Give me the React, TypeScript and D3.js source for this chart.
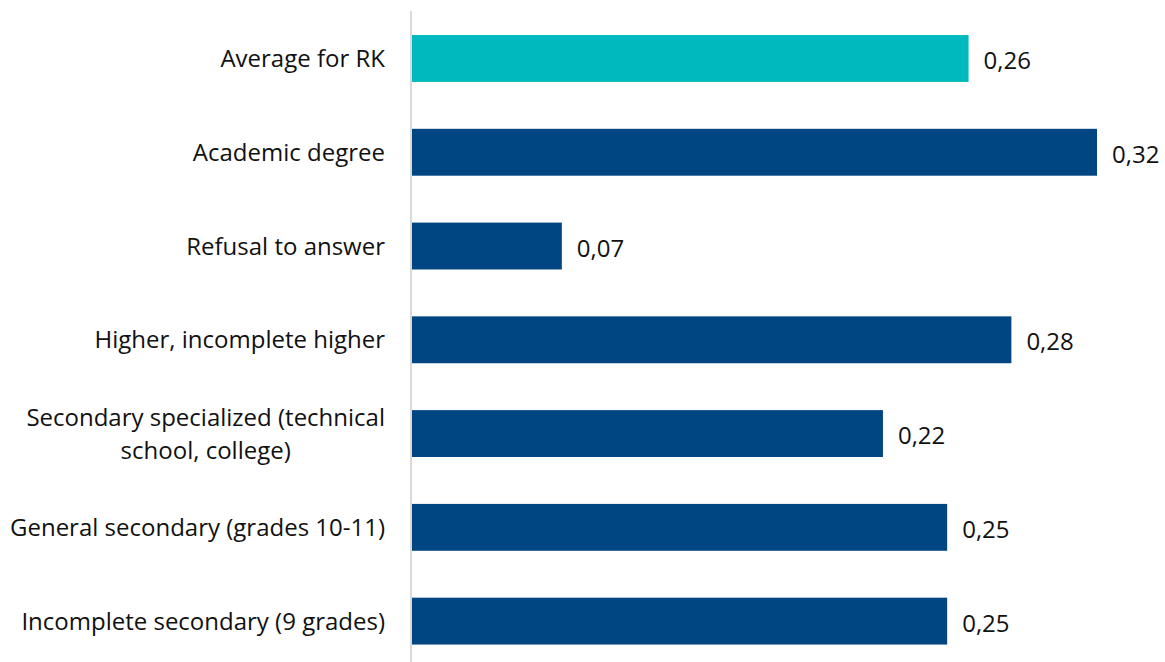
import { useEffect, useRef } from "react";
import * as d3 from "d3";

const categories = [
  "Average for RK",
  "Academic degree",
  "Refusal to answer",
  "Higher, incomplete higher",
  "Secondary specialized (technical\nschool, college)",
  "General secondary (grades 10-11)",
  "Incomplete secondary (9 grades)",
];
const values = [0.26, 0.32, 0.07, 0.28, 0.22, 0.25, 0.25];
const highlight = ["Average for RK"];

const W = 1165;
const H = 662;

export default function App() {
  const ref = useRef<SVGSVGElement>(null);

  useEffect(() => {
    const svg = d3.select(ref.current);
    svg.selectAll("*").remove();

    const axisX = 411;
    const x = d3.scaleLinear().domain([0, 0.32]).range([axisX + 1, axisX + 1 + 685]);
    const y = d3
      .scaleBand()
      .domain(categories)
      .range([11.6, 668])
      .paddingInner(0.5)
      .paddingOuter(0.25);

    const font = "'Open Sans', 'Noto Sans', sans-serif";

    // bars
    svg
      .append("g")
      .selectAll("rect")
      .data(categories)
      .enter()
      .append("rect")
      .attr("x", x(0))
      .attr("y", (d) => y(d)!)
      .attr("width", (d, i) => x(values[i]) - x(0))
      .attr("height", y.bandwidth())
      .attr("fill", (d) => (highlight.includes(d) ? "#00B9BE" : "#004683"));

    // axis line
    svg
      .append("line")
      .attr("x1", axisX)
      .attr("x2", axisX)
      .attr("y1", 11)
      .attr("y2", H)
      .attr("stroke", "#d9d9d9")
      .attr("stroke-width", 2);

    // category labels
    const labelRight = 385;
    const lineH = 33;
    categories.forEach((c) => {
      const lines = c.split("\n");
      const cy = y(c)! + y.bandwidth() / 2;
      const t = svg
        .append("text")
        .attr("font-family", font)
        .attr("font-size", 24)
        .attr("fill", "#111")
        .attr("dominant-baseline", "central");
      if (lines.length === 1) {
        t.attr("x", labelRight).attr("y", cy - 1).attr("text-anchor", "end").text(c);
      } else {
        const spans = lines.map((l, k) =>
          t
            .append("tspan")
            .attr("y", cy - 1 + (k - (lines.length - 1) / 2) * lineH)
            .text(l)
        );
        const widths = spans.map((s) => (s.node() as SVGTSpanElement).getComputedTextLength());
        const maxW = Math.max(...widths);
        const center = labelRight - maxW / 2;
        t.attr("text-anchor", "middle");
        spans.forEach((s) => s.attr("x", center));
      }
    });

    // value labels
    svg
      .append("g")
      .selectAll("text")
      .data(categories)
      .enter()
      .append("text")
      .attr("x", (d, i) => x(values[i]) + 15)
      .attr("y", (d) => y(d)! + y.bandwidth() / 2 + 1)
      .attr("dominant-baseline", "central")
      .attr("font-family", font)
      .attr("font-size", 24)
      .attr("fill", "#111")
      .text((d, i) => values[i].toFixed(2).replace(".", ","));
  }, []);

  return (
    <svg
      ref={ref}
      width={W}
      height={H}
      style={{ position: "absolute", left: 0, top: 0, background: "#fff" }}
    />
  );
}
